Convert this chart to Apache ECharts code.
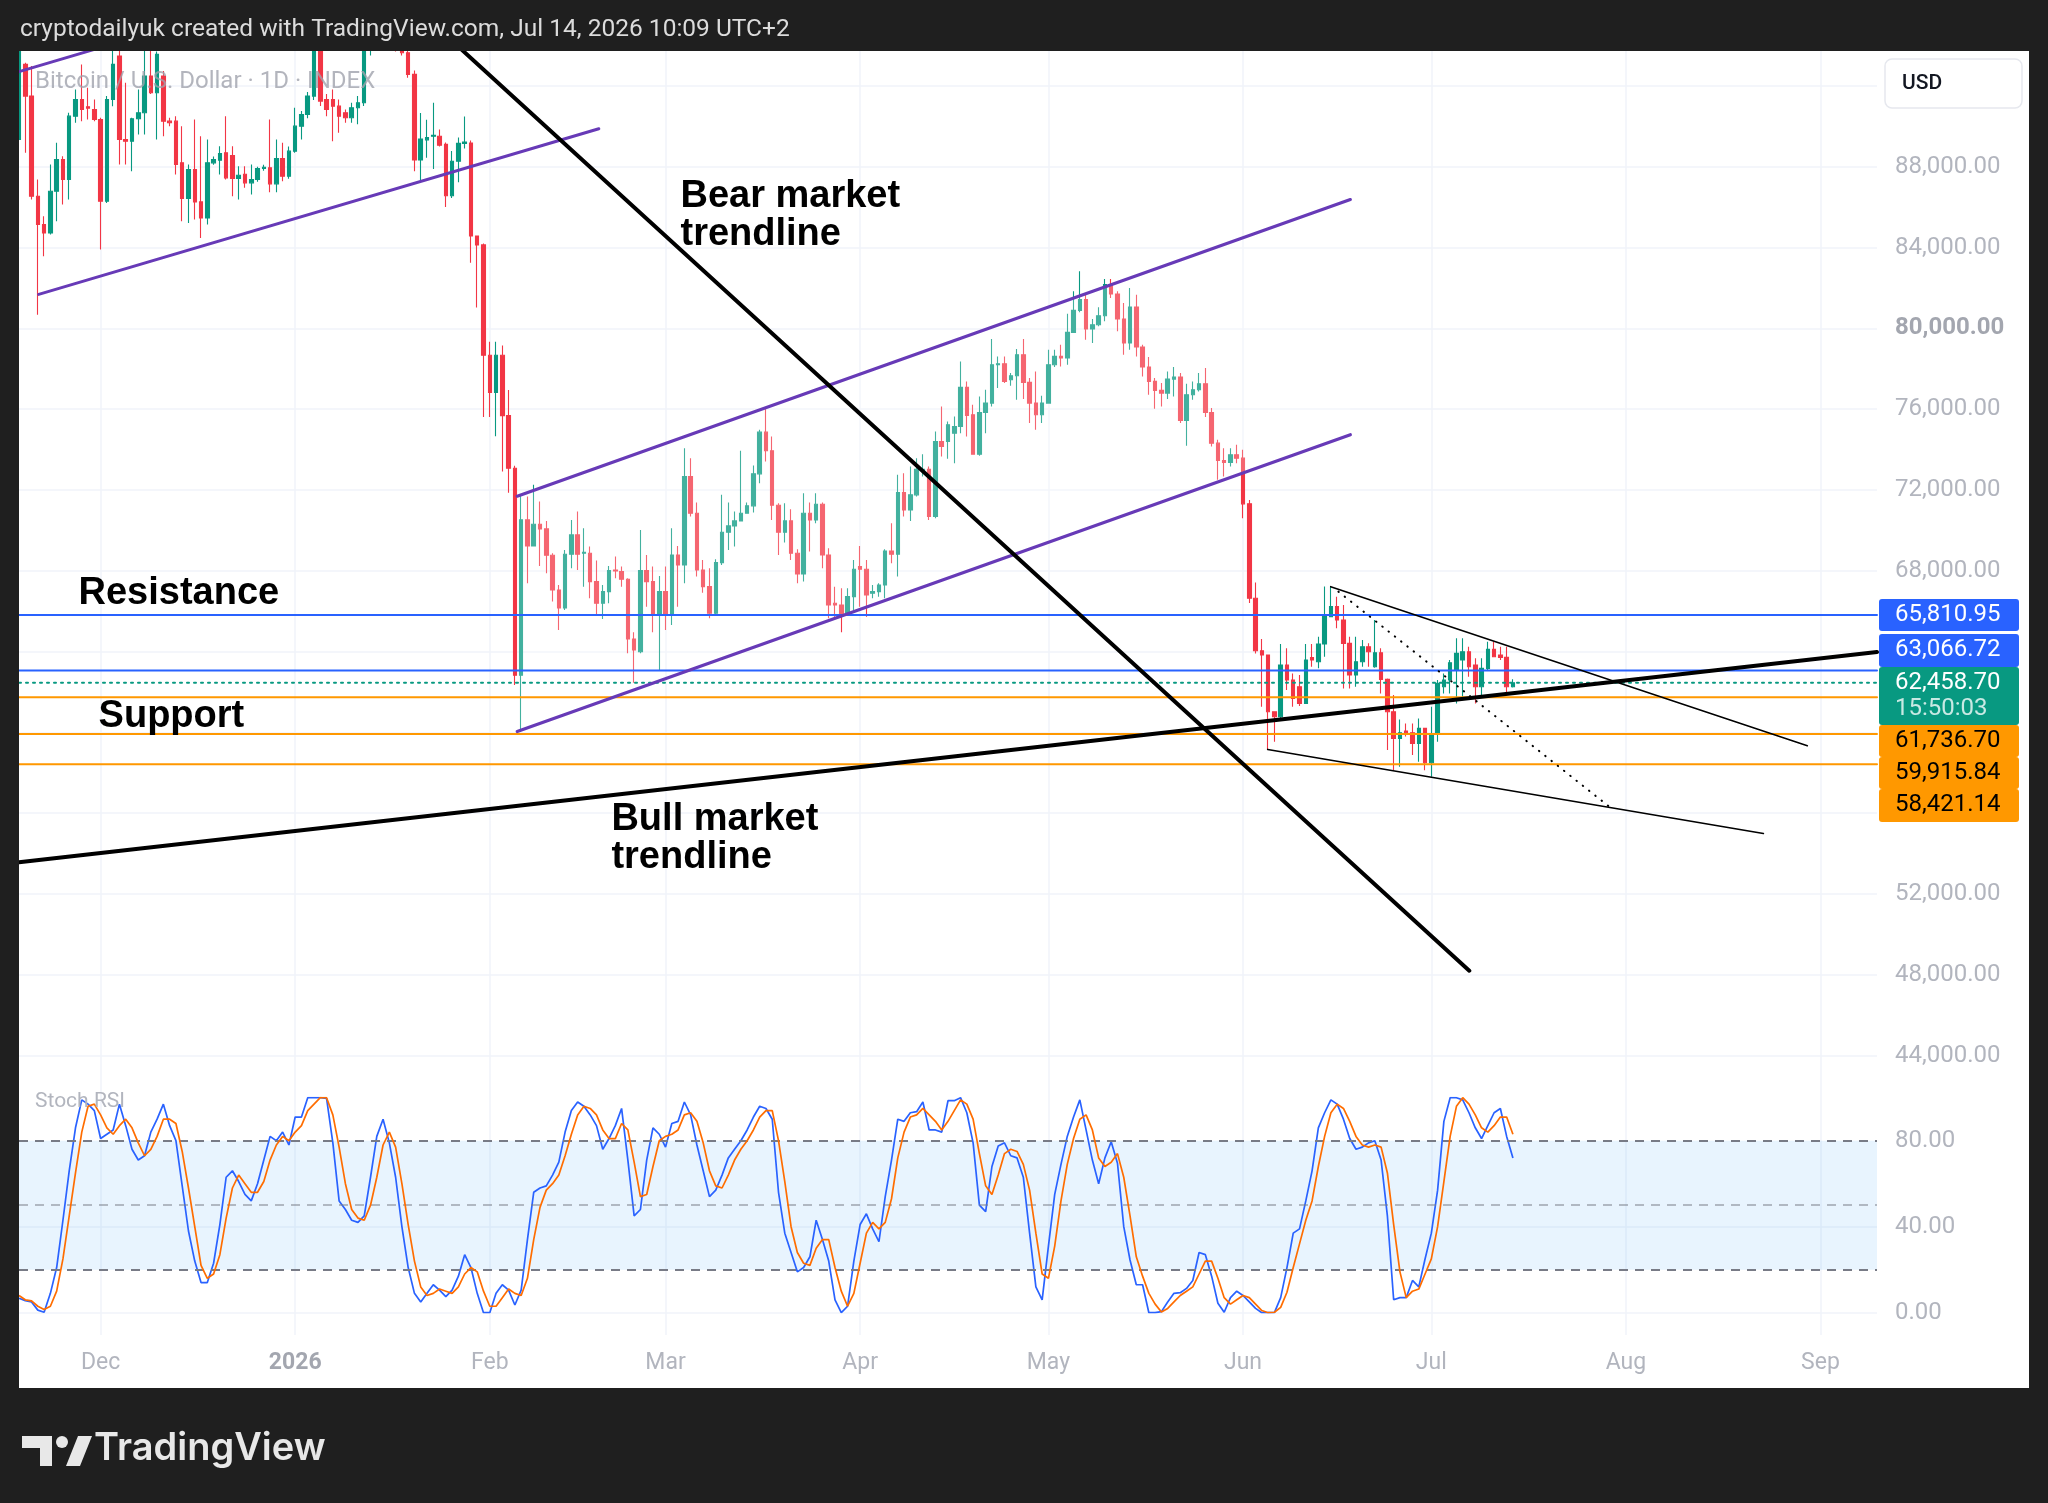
<!DOCTYPE html>
<html>
<head>
<meta charset="utf-8">
<script src="https://cdn.jsdelivr.net/npm/echarts@6/dist/echarts.min.js"></script>
<style>
html,body{margin:0;padding:0;background:#1f1f1f;}
#c{width:2048px;height:1503px;}
</style>
</head>
<body>
<div id="c"></div>
<script>
// ---------- DATA ----------
const START_DATE = '2025-11-18';
const END_DATE = '2026-09-10';

// Daily candles from 2025-11-18: [open, close, low, high]
const ohlc = [
[89348,93900,89300,94200],[93064,91495,88687,93147],[91495,86540,86375,92982],[86540,85136,80676,87366],[85136,84723,83567,85549],
[84723,86788,84640,88110],[86788,88357,85301,89183],[88357,87366,86127,88522],[87366,90504,86375,90669],[90504,91330,90174,91825],
[91330,90834,90256,93064],[90966,90901,90339,91908],[90834,90339,90256,91330],[90339,86292,83897,90421],[86292,91330,86209,91495],
[91330,93064,90999,93725],[93477,89348,88109,93725],[89348,89265,88109,92155],[89265,90372,87779,90421],[90372,90669,89596,91825],
[90669,92486,89596,93808],[92486,91660,91600,93725],[91660,93560,89348,93700],[92486,90256,89513,92734],[90256,90174,90000,90421],
[90256,88109,87614,90504],[88192,86424,85301,90008],[86424,87861,85219,88109],[87861,86259,85384,90339],[86259,85466,84475,89513],
[85466,88192,85136,89348],[88192,88357,88100,88500],[88324,88654,87614,89018],[88687,87448,87366,90504],[88555,87415,86540,89018],
[87415,87581,86375,88027],[87630,87201,86953,88027],[87201,87366,86623,88109],[87366,87911,87250,88000],[87911,87977,87800,88100],
[87944,87151,86738,90339],[87151,88406,86738,89348],[88406,87531,87283,89183],[87531,88770,87400,89000],[88770,90008,88687,90917],
[90008,90587,89348,90752],[90587,91495,90400,91700],[91495,94000,91300,94500],[94000,91247,91000,94600],[91330,90834,90500,91600],
[91330,90999,89265,91825],[90999,90504,89678,91330],[90669,90421,90174,90834],[90421,90917,90174,91165],[90917,91165,90100,91495],
[91165,93900,91000,94200],[93900,95000,93500,95800],[95000,94500,94000,95900],[94500,95300,94200,95700],[95300,94700,94500,95800],
[94700,93900,93700,95000],[93900,93642,93500,94100],[93642,92569,92400,93800],[92569,88334,87781,92758],[88334,89374,87338,90657],
[89329,89440,88444,90325],[89507,89551,87892,91165],[89507,89064,88997,89838],[89108,86565,86011,89200],[86565,88268,86454,88776],
[88268,89153,87228,89440],[89153,89219,88900,90480],[89175,84574,83246,89300],[84574,84131,81034,84600],[84131,78668,75615,84200],
[78668,76831,75615,79332],[76831,78668,74664,79332],[78668,75681,72916,79155],[75681,73071,71855,76942],[73071,62829,62343,73200],
[62829,70528,60020,71744],[70518,69230,67380,71674],[69230,70303,69197,72252],[70303,70072,68238,71427],[70072,68767,67875,70468],
[68767,67049,66472,68866],[67049,66158,65067,67297],[66158,68816,66058,69031],[68816,69775,68123,70518],[69775,68816,68040,70931],
[68866,68916,67214,70105],[68866,67462,66636,69197],[67462,66389,65811,68503],[66389,66967,65613,67297],[66967,68007,66389,68238],
[68040,67990,67627,68701],[67957,67578,67214,68206],[67578,64622,63911,67627],[64622,64077,62458,64952],[63994,68007,63911,70022],
[68007,67462,66224,68783],[67462,65811,64952,68206],[65811,66967,63085,67743],[66967,65811,65067,68206],[65811,68783,65315,70105],
[68783,68288,66224,69230],[68288,72665,67380,74069],[72665,70848,70683,73573],[70848,68040,67710,71377],[68040,67214,66917,68536],
[67214,65893,65645,68123],[65893,68404,65811,68569],[68404,69907,68288,71757],[69907,70220,69032,71377],[70220,70468,69197,70931],
[70468,70848,70518,73937],[70848,71212,70848,71377],[71212,72797,70881,73210],[72797,74862,72334,74977],[74862,73937,73408,76051],
[73937,71245,70518,74647],[71245,69907,68783,71344],[69907,70468,69395,71344],[70468,68866,68536,71047],[68866,67842,67380,69063],
[67842,70848,67462,71840],[70848,70518,68949,71377],[70518,71294,70353,71840],[71294,68783,68123,71377],[68783,66306,65645,69114],
[66389,66306,65645,67214],[66306,65811,64952,67132],[65811,66719,65811,67132],[66719,68073,66058,68536],[68205,68073,66224,69230],
[68073,66801,65728,68536],[66884,66967,66636,67297],[66967,67297,66719,67380],[67297,68981,66636,69064],[68981,68816,68371,70353],
[68816,71872,67710,72748],[71872,71013,70683,72830],[71013,71757,70468,73160],[71757,73028,71674,73573],[72912,73028,72665,73772],
[73028,70683,70518,73160],[70683,74399,70600,74895],[74399,74152,73656,76134],[74399,75225,73540,75390],[74812,75143,73326,75638],
[75143,77075,74812,78363],[77075,75688,74647,77372],[75721,73772,73772,76216],[73772,75836,73689,76629],[75836,76299,74812,76959],
[76299,78198,76134,79470],[78198,78248,77042,78611],[78248,77372,77290,78611],[77455,77653,77158,77785],[77653,78694,76464,78975],
[78694,77323,76497,79470],[77323,76299,75308,77538],[76299,75721,74977,77868],[75721,76299,75308,76662],[76299,78198,76266,78941],
[78198,78611,78083,78941],[78611,78528,78116,79189],[78528,79800,78198,80725],[79800,80890,79800,81832],[80890,81419,80791,82823],
[81419,79965,79437,81667],[79965,80180,79272,80461],[80180,80626,80098,81039],[80626,82162,80346,82443],[82162,81700,81502,82443],
[81700,80461,79850,81832],[80461,79272,78694,81254],[79272,81056,78941,81997],[81056,79074,78611,81667],[79074,78083,77620,79189],
[78083,77372,76712,78578],[77372,76927,76018,77538],[76927,76794,76134,77290],[76794,77488,76497,77868],[77488,77587,76629,78083],
[77587,75440,75308,77785],[75440,76712,74185,77257],[76712,76959,76464,77372],[76959,77257,76877,77785],[77257,75836,75605,78033],
[75836,74317,74152,76051],[74317,73458,72500,74482],[73458,73359,72665,74069],[73359,73739,73161,74069],[73739,73574,73326,74234],
[73574,71311,70600,73986],[71311,66636,66400,71500],[66636,64043,63900,67413],[64043,63829,61268,64621],[63829,61020,59154,63829],
[61020,60773,59534,61020],[60773,63333,60691,64374],[63333,62590,62094,64159],[62590,61681,61268,62920],[62259,61434,61300,62838],
[61434,63581,61400,64374],[63700,63581,63250,64374],[63498,64374,63168,64737],[64374,65728,63746,67215],[65728,66224,65700,67215],
[66224,65563,65150,66719],[65563,64407,62177,66306],[64407,62838,62177,64737],[62838,63498,62260,64737],[63498,64241,63250,64572],
[64241,63994,63250,64407],[63250,63944,63201,65563],[63944,62623,61929,64159],[62623,61020,59121,62670],[61020,59699,58130,61846],
[59699,59980,58295,60641],[60063,59980,59800,60443],[59980,59452,58874,60443],[59452,60195,58543,60691],[60195,58493,58130,60195],
[58493,59947,57800,61268],[59947,62425,59534,62590],[62259,62590,61929,62920],[62590,63449,61929,63581],[63085,63911,61434,64654],
[63581,63994,61764,64654],[63994,63250,62755,64241],[63333,62259,61434,63663],[62259,63168,61846,63663],[63168,64110,63085,64489],
[64110,63746,63713,64489],[63829,63713,63581,64241],[63713,62259,61929,64241],[62259,62458.70,62226,62626]
];

// Stoch RSI %K (blue) and %D (orange), one value per candle
const stochK = [
6.7,5.6,5,1.2,0.2,9,21,43,66,86, 99,97,94,81,83,85,97,87,76,71, 73,84,90,97,87,80,59,38,24,14,
14,23,41,63,66,61,55,52,60,71, 82,80,84,78,91,91,100,100,100,99.7, 79,52,48,43,42,45,63,82,90,79,
63,40,21,9,5,9,13,10.5,7.5,10.5, 17,27,21,9,0,0,9,13,10.5,3.6, 10.5,34,56,58,59,64,70,84,94,98,
96,92,87,76,81,87,95,71,45,48, 71,86,83,77,88,89,98,92,78,66, 54,57,64,72,76,80,85,91,96,95,
90,56,37,28,19,21,26,43,34,24, 6,0,3,24,41,46,39,33,54,71, 90,89,93,93.5,98,85,85,84,98.6,98.6,
100,93,79,50,47,68,77.5,79,73,72, 63,37,12,6,31,55,69,82,91,99, 85,71,60,72,79.5,69.5,40,24.5,13,13,
0,0,0.5,5,9,9.3,11.3,15,28,27, 17,4.4,0.2,7,10,8,5,2,0,0, 0,7,21,37,39,52,66,86,93,99,
97,90,81,76,77,79,80,71,45,6, 7,7,15,12,25,37,57,89,100,100, 99,93,86,81,87,93,95,82,72
];
const stochD = [
8,6,5.5,3,1.5,3,10,25,45,65, 84,96,97,92,86,83,87,90,86,79, 73,76,82,90,90,88,75,58,40,22,
16,18,27,44,58,64,60,56,56,61, 71,78,82,80,84,87,94,97,100,100, 92,77,60,48,44,43,50,63,78,84,
77,60,41,24,12,8,9,11,10,9, 12,18,21,19,10,3,3,7,11,9, 8,16,34,49,57,60,64,73,83,92,
96,95,92,85,81,81,88,85,70,54, 55,68,80,82,83,85,92,93,89,79, 66,59,58,64,71,76,80,85,91,94,
94,80,61,40,28,23,22,30,34,34, 21,10,3,9,23,37,42,39,42,53, 72,84,91,92,95,92,89,85,89,94,
99,97,90,74,59,55,64,74,76,75, 69,57,37,18,16,31,52,69,81,90, 92,85,72,68,70,74,63,45,26,17,
9,4,0.3,2,5,8,10,12,18,24, 24,16,7,4,6,8,7,4,1,0, 0.2,2.5,9.5,21,32,43,52,68,82,93,
97,95,89,82,78,77,78,77,65,41, 19,7,10,11,18,25,40,61,82,96, 100,97,92,86,84,87,91,91,83
];

// Drawings: [dayIndex, price] end points
const bearTrendline = [[60, 96784], [231.05, 48201]];
const bullTrendline = [[0, 53572], [296, 63978]];
const channel1Lower = [[3.14, 81682], [92.37, 89877]];
const channel1Upper = [[-5, 92245], [45, 96837]];
const channel2Lower = [[79.37, 60043], [212.1, 74735]];
const channel2Upper = [[79.37, 71693], [212.1, 86374]];
const wedgeUpper = [[208.97, 67213], [284.9, 59335]];
const wedgeLower = [[198.93, 59156], [277.9, 54994]];
const wedgeDotted = [[210.2, 66966], [253.7, 56233]];

// Horizontal levels
const resistanceLevels = [65810.95, 63066.72];
const lastPrice = 62458.70;
const supportLevels = [61736.70, 59915.84, 58421.14];
const countdown = '15:50:03';

// Text annotations: [dayIndex, price, text]
const notes = [
  [105.3, 85560, 'Bear market\ntrendline'],
  [9.4, 66849, 'Resistance'],
  [12.6, 60760, 'Support'],
  [94.3, 54721, 'Bull market\ntrendline']
];

const monthNames = ['Jan','Feb','Mar','Apr','May','Jun','Jul','Aug','Sep','Oct','Nov','Dec'];
const priceTicks = {min: 40000, max: 96000, step: 4000, labelMin: 44000, labelMax: 88000, gridMax: 92000};

// ---------- BUILD ----------
const dates = [];
(function(){
  let d = new Date(START_DATE + 'T00:00:00Z');
  const end = new Date(END_DATE + 'T00:00:00Z');
  while (d <= end) { dates.push(d.toISOString().slice(0,10)); d = new Date(d.getTime() + 86400000); }
})();
const lastIdx = dates.length - 1;

const UP = '#089981', DOWN = '#f23645';
const fmt = v => v.toLocaleString('en-US', {minimumFractionDigits: 2, maximumFractionDigits: 2});
const isMonthStart = (i, v) => v.slice(8) === '01';

const priceSplitColors = [];
for (let v = priceTicks.min; v <= priceTicks.max; v += priceTicks.step)
  priceSplitColors.push(v >= priceTicks.labelMin && v <= priceTicks.gridMax ? '#f0f3fa' : 'rgba(0,0,0,0)');

function seg(data, color, width, type, z) {
  return {type: 'line', xAxisIndex: 1, yAxisIndex: 0, data: data, symbol: 'none', silent: true,
    clip: true, z: z || 6, animation: false,
    lineStyle: {color: color, width: width, type: type || 'solid', cap: 'round'}};
}

const series = [
  {
    type: 'candlestick', name: 'BTCUSD', xAxisIndex: 0, yAxisIndex: 0, data: ohlc,
    barWidth: 4, z: 2, clip: true,
    itemStyle: {color: UP, color0: DOWN, borderColor: UP, borderColor0: DOWN, borderWidth: 1.1}
  },
  {
    type: 'custom', xAxisIndex: 1, yAxisIndex: 0, silent: true, z: 3, clip: true,
    data: [[channel2Lower[0][0], channel2Lower[0][1]]],
    renderItem: function (params, api) {
      const pts = [channel2Lower[0], channel2Lower[1], channel2Upper[1], channel2Upper[0]].map(p => api.coord(p));
      return {type: 'polygon', shape: {points: pts}, style: {fill: 'rgba(255,255,255,0.24)'}};
    }
  },
  seg(channel1Lower, '#673ab7', 3),
  seg(channel1Upper, '#673ab7', 3),
  seg(channel2Lower, '#673ab7', 3.2),
  seg(channel2Upper, '#673ab7', 3.2),
  seg(bearTrendline, '#000000', 4),
  seg(bullTrendline, '#000000', 4),
  seg(wedgeUpper, '#000000', 1.6),
  seg(wedgeLower, '#000000', 1.6),
  seg(wedgeDotted, '#000000', 2, [0.5, 7.5], 6),
  seg([[0, resistanceLevels[0]], [lastIdx, resistanceLevels[0]]], '#2962ff', 2, 'solid', 5),
  seg([[0, resistanceLevels[1]], [lastIdx, resistanceLevels[1]]], '#2962ff', 2, 'solid', 5),
  seg([[0, lastPrice], [lastIdx, lastPrice]], '#089981', 2, [2, 5], 5),
  seg([[0, supportLevels[0]], [lastIdx, supportLevels[0]]], '#ff9800', 2, 'solid', 5),
  seg([[0, supportLevels[1]], [lastIdx, supportLevels[1]]], '#ff9800', 2, 'solid', 5),
  seg([[0, supportLevels[2]], [lastIdx, supportLevels[2]]], '#ff9800', 2, 'solid', 5),
  {
    type: 'scatter', xAxisIndex: 1, yAxisIndex: 0, symbol: 'circle', symbolSize: 1, silent: true, z: 8,
    itemStyle: {color: 'rgba(0,0,0,0)'},
    data: notes.map(n => ({value: [n[0], n[1]], label: {formatter: n[2]}})),
    label: {show: true, position: 'right', distance: 0, color: '#000000', fontSize: 38, opacity: 1,
      fontWeight: 'bold', fontFamily: 'Liberation Sans', lineHeight: 38}
  },
  {
    type: 'line', name: 'K', xAxisIndex: 2, yAxisIndex: 1, data: stochK, symbol: 'none', z: 4,
    lineStyle: {color: '#2962ff', width: 1.7},
    markArea: {silent: true, itemStyle: {color: 'rgba(33,150,243,0.1)'}, data: [[{yAxis: 20}, {yAxis: 80}]]},
    markLine: {silent: true, symbol: 'none', label: {show: false},
      data: [
        {yAxis: 80, lineStyle: {color: '#787b86', width: 2, type: [9, 7]}},
        {yAxis: 50, lineStyle: {color: 'rgba(120,123,134,0.5)', width: 2, type: [9, 7]}},
        {yAxis: 20, lineStyle: {color: '#787b86', width: 2, type: [9, 7]}}
      ]}
  },
  {
    type: 'line', name: 'D', xAxisIndex: 2, yAxisIndex: 1, data: stochD, symbol: 'none', z: 5,
    lineStyle: {color: '#ff6d00', width: 1.7}
  }
];

const axisFont = {color: '#b2b5be', fontSize: 24, fontFamily: 'Roboto'};

const option = {
  animation: false,
  backgroundColor: '#ffffff',
  grid: [
    {left: 19, right: 171, top: 5.1, bottom: 366.6, outerBoundsMode: 'none'},
    {left: 19, right: 171, top: 1097.7, bottom: 190.3, outerBoundsMode: 'none'},
    {left: 19, right: 171, top: 51, bottom: 168, outerBoundsMode: 'none'}
  ],
  xAxis: [
    {type: 'category', gridIndex: 0, data: dates, boundaryGap: false, show: false},
    {type: 'value', gridIndex: 0, min: 0, max: lastIdx, show: false},
    {type: 'category', gridIndex: 1, data: dates, boundaryGap: false, show: false},
    {type: 'category', gridIndex: 2, data: dates, boundaryGap: false, position: 'bottom',
      axisLine: {show: false}, axisTick: {show: false},
      splitLine: {show: true, interval: isMonthStart, lineStyle: {color: '#f0f3fa', width: 1.5}},
      axisLabel: Object.assign({}, axisFont, {
        interval: isMonthStart, margin: 17, fontSize: 23,
        formatter: function (v) {
          const m = +v.slice(5, 7);
          return m === 1 ? '{y|' + v.slice(0, 4) + '}' : monthNames[m - 1];
        },
        rich: {y: {fontWeight: 'bold', color: '#a3a6af', fontSize: 23, fontFamily: 'Roboto'}}
      })}
  ],
  yAxis: [
    {type: 'value', gridIndex: 0, position: 'right', min: priceTicks.min, max: priceTicks.max, interval: priceTicks.step,
      axisLine: {show: false}, axisTick: {show: false},
      splitLine: {show: true, lineStyle: {color: priceSplitColors, width: 1.5}},
      axisLabel: Object.assign({}, axisFont, {
        margin: 18, showMinLabel: true, showMaxLabel: true,
        formatter: function (v) {
          if (v < priceTicks.labelMin || v > priceTicks.labelMax) return '';
          return v === 80000 ? '{b|' + fmt(v) + '}' : fmt(v);
        },
        rich: {b: {fontWeight: 'bold', color: '#a3a6af', fontSize: 24, fontFamily: 'Roboto'}}
      })},
    {type: 'value', gridIndex: 1, position: 'right', min: 0, max: 100, interval: 20,
      axisLine: {show: false}, axisTick: {show: false},
      splitLine: {show: true, lineStyle: {color: ['#f0f3fa', 'rgba(0,0,0,0)', '#f0f3fa', 'rgba(0,0,0,0)', 'rgba(0,0,0,0)', 'rgba(0,0,0,0)'], width: 1.5}},
      axisLabel: Object.assign({}, axisFont, {
        margin: 18,
        formatter: v => (v === 0 || v === 40 || v === 80) ? v.toFixed(2) : ''
      })},
    {type: 'value', gridIndex: 2, show: false}
  ],
  series: series
};

const chart = echarts.init(document.getElementById('c'), null, {renderer: 'canvas'});
chart.setOption(option);

// ---------- Overlays (frame, texts, price tags) ----------
const DARK = '#1f1f1f';
const g = [
  {type: 'rect', shape: {x: 0, y: 0, width: 2048, height: 51}, style: {fill: DARK}, z: 100},
  {type: 'rect', shape: {x: 0, y: 1388, width: 2048, height: 115}, style: {fill: DARK}, z: 100},
  {type: 'rect', shape: {x: 0, y: 0, width: 19, height: 1503}, style: {fill: DARK}, z: 100},
  {type: 'rect', shape: {x: 2029, y: 0, width: 19, height: 1503}, style: {fill: DARK}, z: 100},
  {type: 'text', x: 20, y: 30, z: 101, style: {text: 'cryptodailyuk created with TradingView.com, Jul 14, 2026 10:09 UTC+2',
    fill: '#dcdcdc', font: '24.5px Roboto', textAlign: 'left', textVerticalAlign: 'middle'}},
  {type: 'text', x: 35, y: 82, z: 101, style: {text: 'Bitcoin / U.S. Dollar · 1D · INDEX',
    fill: 'rgba(160,163,172,0.8)', font: '24px Roboto', textAlign: 'left', textVerticalAlign: 'middle'}},
  {type: 'text', x: 35, y: 1102, z: 101, style: {text: 'Stoch RSI',
    fill: '#b2b5be', font: '21px Roboto', textAlign: 'left', textVerticalAlign: 'middle'}},
  {type: 'rect', shape: {x: 1885, y: 59, width: 137, height: 49, r: 7}, style: {fill: '#ffffff', stroke: '#e6e8ee', lineWidth: 1.5}, z: 101},
  {type: 'text', x: 1902, y: 84, z: 102, style: {text: 'USD', fill: '#131722', font: '500 21px Roboto', textAlign: 'left', textVerticalAlign: 'middle'}},
  // TradingView logo
  {type: 'polygon', shape: {points: [[22,1436],[52,1436],[52,1466],[40,1466],[40,1448],[22,1448]]}, style: {fill: '#e8e8e8'}, z: 101},
  {type: 'circle', shape: {cx: 62, cy: 1442, r: 6}, style: {fill: '#e8e8e8'}, z: 101},
  {type: 'polygon', shape: {points: [[66,1466],[78,1436],[92,1436],[80,1466]]}, style: {fill: '#e8e8e8'}, z: 101},
  {type: 'text', x: 94, y: 1449, z: 101, style: {text: 'TradingView', fill: '#e8e8e8', font: '600 38px Inter', textAlign: 'left', textVerticalAlign: 'middle'}}
];

const tags = [
  {v: resistanceLevels[0], lines: [fmt(resistanceLevels[0])], bg: '#2962ff', fg: '#ffffff', off: 0, h: 32},
  {v: resistanceLevels[1], lines: [fmt(resistanceLevels[1])], bg: '#2962ff', fg: '#ffffff', off: 35, h: 33},
  {v: lastPrice, lines: [fmt(lastPrice), countdown], bg: '#089981', fg: '#ffffff', off: 68, h: 58},
  {v: supportLevels[0], lines: [fmt(supportLevels[0])], bg: '#ff9800', fg: '#000000', off: 126, h: 32},
  {v: supportLevels[1], lines: [fmt(supportLevels[1])], bg: '#ff9800', fg: '#000000', off: 158, h: 32},
  {v: supportLevels[2], lines: [fmt(supportLevels[2])], bg: '#ff9800', fg: '#000000', off: 190, h: 33}
];
const top0 = chart.convertToPixel({yAxisIndex: 0}, resistanceLevels[0]) - 16;
tags.forEach(function (t) {
  const y = top0 + t.off;
  g.push({type: 'rect', shape: {x: 1879, y: y, width: 140, height: t.h, r: 3}, style: {fill: t.bg}, z: 110});
  g.push({type: 'text', x: 1895, y: y + 16, z: 111, style: {text: t.lines[0], fill: t.fg, font: '24px Roboto', textAlign: 'left', textVerticalAlign: 'middle'}});
  if (t.lines[1]) g.push({type: 'text', x: 1895, y: y + 42, z: 111, style: {text: t.lines[1], fill: 'rgba(255,255,255,0.78)', font: '24px Roboto', textAlign: 'left', textVerticalAlign: 'middle'}});
});
chart.setOption({graphic: g});
</script>
</body>
</html>
